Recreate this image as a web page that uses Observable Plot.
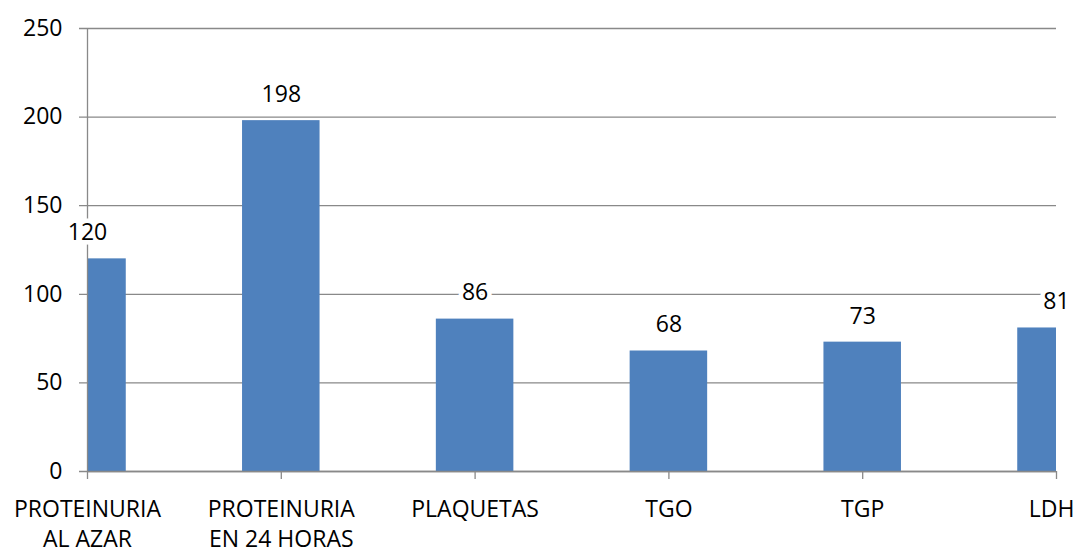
<!DOCTYPE html>
<html>
<head>
<meta charset="utf-8">
<script src="https://cdn.jsdelivr.net/npm/d3@7"></script>
<script src="https://cdn.jsdelivr.net/npm/@observablehq/plot@0.6"></script>
<style>
  body { margin: 0; background: #fff; }
  #chart svg { display: block; }
</style>
</head>
<body>
<div id="chart"></div>
<script>
// Laboratory parameters and their counts
const categories = ["PROTEINURIA\nAL AZAR", "PROTEINURIA\nEN 24 HORAS", "PLAQUETAS", "TGO", "TGP", "LDH"];
const values = [120, 198, 86, 68, 73, 81];
const yTicks = [0, 50, 100, 150, 200, 250];

const rows = categories.map((category, i) => ({ i, category, value: values[i] }));
const positions = categories.map((_, i) => i);
const last = categories.length - 1;

const gridColor = "#898989";
const barColor = "#4f81bd";
const halfBar = 0.2; // half of a bar's width, in category steps
const fontSize = 23;
const labelOffset = 8 + 16; // tick length + padding below the baseline axis

const chart = Plot.plot({
  width: 1075,
  height: 548,
  marginLeft: 87,
  marginRight: 19,
  marginTop: 28,
  marginBottom: 77,
  style: { fontFamily: "'Open Sans', sans-serif", fontSize: `${fontSize}px`, color: "#000", background: "#fff" },
  x: { type: "linear", domain: [0, last], axis: null },
  y: { domain: [0, 250], axis: null },
  marks: [
    // horizontal gridlines, with short ticks to the left of the axis
    Plot.ruleY(yTicks, { stroke: gridColor, strokeWidth: 1.3, insetLeft: -8 }),
    Plot.rectY(rows, {
      x1: d => d.i - halfBar,
      x2: d => d.i + halfBar,
      y1: 0,
      y2: "value",
      fill: barColor,
      clip: true
    }),
    // axis lines
    Plot.ruleX([0], { y1: 0, y2: 250, stroke: gridColor, strokeWidth: 1.3 }),
    Plot.ruleY([0], { stroke: gridColor, strokeWidth: 1.3 }),
    Plot.axisY({
      ticks: yTicks,
      tickSize: 0,
      tickPadding: 25,
      label: null,
      fontSize,
      fill: "#000"
    }),
    // short category ticks hanging below the baseline
    Plot.ruleX(positions, { x: d => d, y1: 0, y2: 0, insetBottom: -8, stroke: gridColor, strokeWidth: 1.3 }),
    // category labels; the rightmost one is kept inside the page edge
    Plot.text(rows.filter(d => d.i !== last), {
      x: "i",
      y: 0,
      text: "category",
      lineAnchor: "top",
      lineHeight: 1.3,
      dy: labelOffset,
      fontSize,
      fill: "#000"
    }),
    Plot.text(rows.filter(d => d.i === last), {
      x: "i",
      y: 0,
      text: "category",
      lineAnchor: "top",
      lineHeight: 1.3,
      textAnchor: "end",
      dx: 18,
      dy: labelOffset,
      fontSize,
      fill: "#000"
    }),
    // value labels on a white backing
    Plot.text(rows, {
      x: "i",
      y: "value",
      text: d => String(d.value),
      dy: -26,
      fontSize,
      fill: "#000",
      stroke: "#fff",
      strokeWidth: 9,
      paintOrder: "stroke"
    })
  ]
});

document.getElementById("chart").append(chart);
</script>
</body>
</html>
